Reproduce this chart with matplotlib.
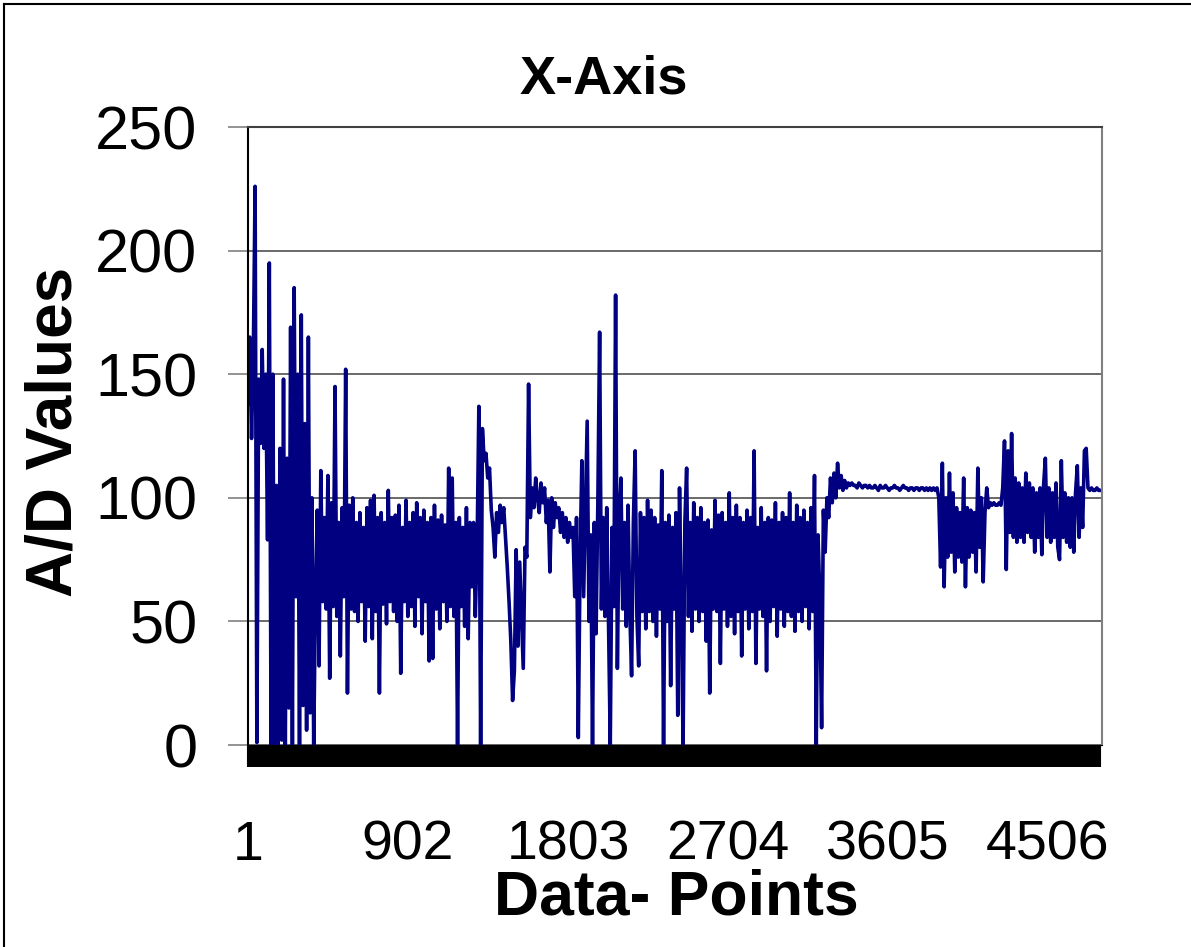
import matplotlib
matplotlib.use("Agg")
import matplotlib.pyplot as plt
from matplotlib.lines import Line2D
import numpy as np

plt.rcParams['font.family'] = ['Liberation Sans', 'DejaVu Sans']

# A/D readings, one value kept for every 10th data point
burst_start = [138, 165, 124, 158, 226, 1, 148, 122, 160, 120,
               150, 83, 195, 0, 150, 0, 105, 0, 120, 2,
               148, 0, 116, 15, 169, 0, 185, 60, 150, 0,
               174, 16, 130, 6, 165, 13, 100, 0]
noisy_first = [60, 95, 32, 111, 58, 92, 55, 109, 27, 98,
               56, 145, 52, 90, 36, 96, 60, 152, 21, 97,
               55, 100, 54, 90, 50, 94, 58, 88, 42, 96,
               56, 99, 43, 101, 54, 92, 21, 94, 57, 90,
               49, 103, 58, 92, 54, 93, 50, 97, 29, 88,
               58, 99, 52, 90, 56, 94, 48, 98, 60, 92,
               45, 95, 58, 90, 34, 92, 35, 97, 55, 91,
               47, 93, 58, 89, 50, 112, 56, 108, 52, 90,
               0, 92, 56, 88, 48, 96, 43, 90]
spike_dip = [64, 90, 52, 80, 137, 0, 128, 115, 118, 108,
             112, 95, 88, 76, 94, 86, 97, 90, 96, 84,
             72, 58, 42, 18, 30, 79, 40, 74, 52, 31, 80]
plateau = [76, 146, 92, 104, 96, 108, 100, 94, 106, 98,
           104, 90, 99, 70, 100, 88, 98, 92, 96, 86,
           94, 84, 92, 82, 90, 84, 88, 60, 92]
noisy_second = [3, 75, 115, 60, 95, 131, 50, 85, 0, 90,
                45, 98, 167, 55, 92, 52, 96, 50, 0, 88,
                56, 182, 31, 92, 108, 55, 90, 48, 97, 54,
                28, 90, 119, 52, 32, 94, 54, 92, 47, 99,
                54, 95, 50, 92, 44, 89, 55, 111, 0, 90,
                50, 93, 24, 88, 55, 94, 12, 104, 54, 0,
                90, 112, 52, 90, 46, 98, 55, 92, 50, 96,
                54, 90, 42, 91, 21, 87, 55, 99, 54, 93,
                33, 94, 55, 90, 48, 102, 52, 92, 45, 97,
                54, 92, 36, 90, 55, 95, 47, 92, 54, 119,
                33, 88, 55, 96, 52, 90, 30, 92, 50, 91,
                56, 98, 44, 90, 55, 94, 48, 92, 54, 102,
                52, 90, 46, 97, 54, 92, 50, 95, 56, 90,
                47, 96, 54, 109, 0, 85, 60, 7]
rise = [95, 78, 100, 92, 108, 98, 110, 100, 114, 104, 109, 103, 107, 104]
flat_first = [106, 105, 106, 105, 105, 104, 106, 105, 104, 105,
              105, 104, 105, 104, 104, 105, 104, 103, 105, 104,
              104, 105, 104, 103, 104, 104, 105, 104, 104, 103,
              104, 105, 104, 104, 103, 104, 104, 103, 104, 104,
              103, 104, 104, 103, 104, 103, 104, 103, 104, 103, 104]
burst_second = [100, 72, 114, 64, 100, 76, 110, 78, 102, 70,
                96, 76, 94, 74, 108, 64, 96, 76, 95, 78,
                94, 70, 112, 80, 100, 66, 94, 104, 96]
flat_second = [98, 97, 98, 97, 97, 98, 97]
burst_third = [104, 123, 71, 119, 86, 126, 84, 108, 82, 106,
               84, 104, 82, 110, 86, 106, 84, 104, 78, 102,
               84, 104, 77, 105, 116, 84, 104, 82, 102, 84,
               106, 80, 75, 115, 84, 102, 82, 100, 80, 100,
               78, 102, 113, 84, 104, 88, 119, 120]
flat_end = [104, 103, 104, 103, 103, 104, 103, 103]

values = (burst_start + noisy_first + spike_dip + plateau + noisy_second +
          rise + flat_first + burst_second + flat_second + burst_third + flat_end)
step = 10
points = np.arange(len(values)) * step + 1
n_points = 4810

tick_labels = [1, 902, 1803, 2704, 3605, 4506]
y_ticks = [0, 50, 100, 150, 200, 250]

fig = plt.figure(figsize=(11.91, 9.47), dpi=100)
ax = fig.add_axes([248 / 1191, 202 / 947, 854 / 1191, 618 / 947])

ax.plot(points, values, color='#000080', linewidth=2.6)

ax.set_xlim(1, n_points)
ax.set_ylim(0, 250)
ax.set_yticks(y_ticks)
ax.set_yticklabels([str(v) for v in y_ticks], fontsize=44)
ax.grid(axis='y', color='#505050', linewidth=1.2)
ax.set_axisbelow(True)

ax.set_xticks(tick_labels)
ax.set_xticklabels([str(v) for v in tick_labels], fontsize=40)
ax.set_xticks(np.arange(1, n_points, step), minor=True)
ax.tick_params(axis='x', which='both', direction='out', length=15.8, width=1.5,
               color='black', pad=38)
ax.tick_params(axis='y', direction='out', length=14.4, width=1.2,
               color='#808080', pad=22)

ax.spines['left'].set_color('black')
ax.spines['left'].set_linewidth(1.5)
ax.spines['bottom'].set_color('black')
ax.spines['top'].set_color('#404040')
ax.spines['top'].set_linewidth(1.5)
ax.spines['right'].set_color('#808080')
ax.spines['right'].set_linewidth(1.5)

fig.text(604 / 1191, 1 - 80 / 947, 'X-Axis', fontsize=39, fontweight='bold',
         ha='center', va='center')
fig.text(676 / 1191, 1 - 898 / 947, 'Data- Points', fontsize=45, fontweight='bold',
         ha='center', va='center')
fig.text(55 / 1191, 1 - 432 / 947, 'A/D Values', fontsize=46, fontweight='bold',
         ha='center', va='center', rotation=90)

# chart area border (left and top edges are visible)
fig.add_artist(Line2D([3.5 / 1191, 3.5 / 1191], [0, 1 - 4.5 / 947],
                      color='black', linewidth=1.5, transform=fig.transFigure))
fig.add_artist(Line2D([3.5 / 1191, 1], [1 - 4.5 / 947, 1 - 4.5 / 947],
                      color='black', linewidth=1.5, transform=fig.transFigure))

fig.savefig('out.png', dpi=100)
